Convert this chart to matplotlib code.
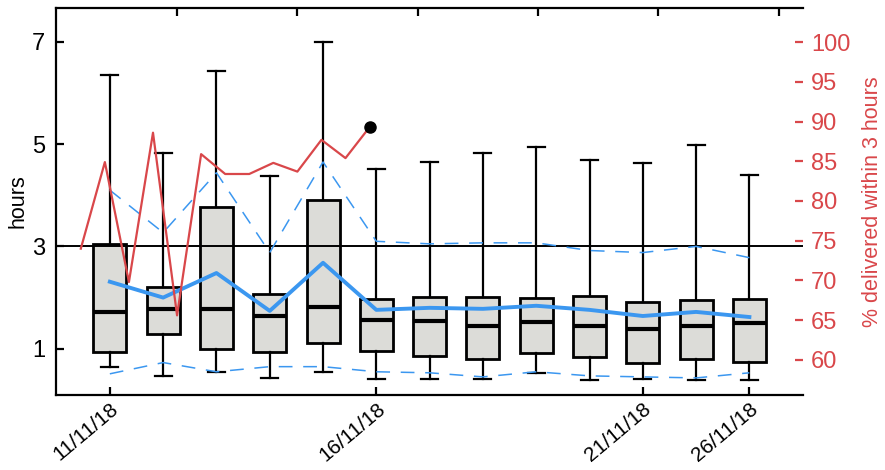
import matplotlib
matplotlib.use("Agg")
import matplotlib.pyplot as plt
import matplotlib.transforms as mtransforms

plt.rcParams['font.family'] = ['Liberation Sans', 'DejaVu Sans']

# box plot data (hours), one box per position
tick_labels = ['11/11/18', '16/11/18', '21/11/18', '26/11/18']
tick_pos = [0, 5, 10, 12]
whislo = [0.65, 0.47, 0.55, 0.43, 0.55, 0.41, 0.41, 0.41, 0.53, 0.39, 0.41, 0.39, 0.39]
q1 = [0.94, 1.29, 1.00, 0.94, 1.12, 0.96, 0.86, 0.80, 0.92, 0.84, 0.73, 0.79, 0.75]
med = [1.72, 1.78, 1.78, 1.64, 1.82, 1.57, 1.55, 1.45, 1.53, 1.45, 1.39, 1.45, 1.51]
q3 = [3.05, 2.21, 3.77, 2.07, 3.91, 1.98, 2.02, 2.02, 2.00, 2.04, 1.92, 1.96, 1.98]
whishi = [6.35, 4.83, 6.43, 4.38, 7.00, 4.52, 4.65, 4.83, 4.95, 4.69, 4.63, 4.98, 4.40]
mean_line = [2.31, 2.00, 2.48, 1.74, 2.68, 1.76, 1.80, 1.78, 1.84, 1.76, 1.64, 1.72, 1.62]
upper_band = [4.10, 3.27, 4.44, 2.88, 4.65, 3.10, 3.05, 3.07, 3.07, 2.92, 2.88, 3.00, 2.78]
lower_band = [0.51, 0.73, 0.55, 0.65, 0.65, 0.55, 0.53, 0.45, 0.55, 0.47, 0.45, 0.43, 0.53]

# % delivered within 3 hours (daily)
days = list(range(13))
pct = [74.0, 84.9, 69.8, 88.6, 65.6, 85.9, 83.4, 83.4, 84.8, 83.7, 87.7, 85.4, 89.3]
top_ticks = [4, 9, 14, 19, 24, 29]

red = '#d9474a'
blue = '#3b97f0'

fig = plt.figure(figsize=(8.85, 4.70), dpi=100)
rect = [0.0633, 0.160, 0.8437, 0.823]
ax = fig.add_axes(rect)

positions = list(range(len(med)))
stats = []
for i in positions:
    stats.append(dict(whislo=whislo[i], q1=q1[i], med=med[i], q3=q3[i], whishi=whishi[i], fliers=[]))
ax.bxp(stats, positions=positions, widths=0.62, patch_artist=True, showfliers=False,
       boxprops=dict(facecolor='#dcdcd8', edgecolor='black', linewidth=2),
       medianprops=dict(color='black', linewidth=3),
       whiskerprops=dict(color='black', linewidth=1.6),
       capprops=dict(color='black', linewidth=1.6), capwidths=0.32)

ax.axhline(3, color='black', linewidth=1.4)
ax.plot(positions, mean_line, color=blue, linewidth=2.8, zorder=5)
ax.plot(positions, upper_band, color=blue, linewidth=1.1, dashes=(9, 7))
ax.plot(positions, lower_band, color=blue, linewidth=1.1, dashes=(9, 7))

ax.set_xlim(-1.01, 13.0)
ax.set_ylim(0.1, 7.66)
ax.set_yticks([1, 3, 5, 7])
ax.set_xticks(tick_pos)
ax.set_xticklabels(tick_labels, rotation=40, ha='right', va='top', rotation_mode='anchor')
offset = mtransforms.ScaledTranslation(11 / 100, -3 / 100, fig.dpi_scale_trans)
for lab in ax.get_xticklabels():
    lab.set_transform(lab.get_transform() + offset)
ax.tick_params(direction='in', length=6, width=1.6, labelsize=17)
ax.tick_params(axis='x', labelsize=15)
ax.tick_params(axis='y', pad=8)
ax.set_ylabel('hours', fontsize=15.5, labelpad=2)
for s in ['left', 'bottom', 'top']:
    ax.spines[s].set_linewidth(1.6)
ax.spines['right'].set_visible(False)

# second axes for the daily % line
ax2 = fig.add_axes(rect, frameon=False)
ax2.plot(days, pct, color=red, linewidth=1.6)
ax2.plot(days[-1], pct[-1], 'o', color='black', markersize=8)
ax2.set_xlim(-1.03, 30.0)
ax2.set_ylim(55.6, 104.3)
ax2.yaxis.tick_right()
ax2.yaxis.set_label_position('right')
ax2.xaxis.tick_top()
ax2.set_xticks(top_ticks)
ax2.set_xticklabels([])
ax2.set_yticks([60, 65, 70, 75, 80, 85, 90, 95, 100])
ax2.tick_params(axis='x', direction='in', length=6, width=1.6)
ax2.tick_params(axis='y', direction='in', length=6, width=1.6, colors=red, labelsize=17, pad=6)
ax2.set_ylabel('% delivered within 3 hours', color=red, fontsize=15.5, labelpad=8)
ax2.spines['right'].set_visible(True)
ax2.spines['right'].set_color(red)
ax2.spines['right'].set_linewidth(1.6)

fig.savefig('out.png', dpi=100)
